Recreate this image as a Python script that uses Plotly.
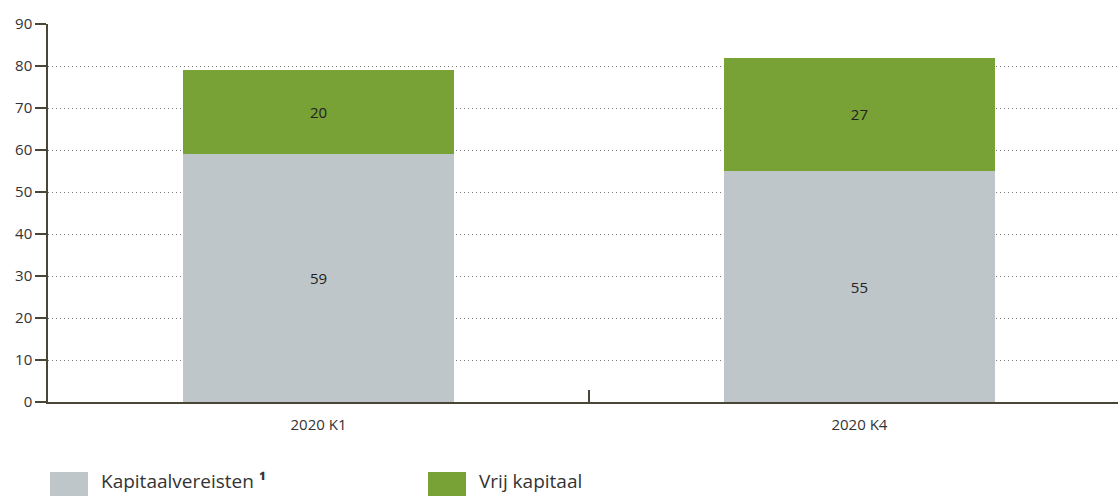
import plotly.graph_objects as go

categories = ["2020 K1", "2020 K4"]
kapitaalvereisten = [59, 55]
vrij_kapitaal = [20, 27]
series_names = ["Kapitaalvereisten", "Vrij kapitaal"]
y_ticks = [0, 10, 20, 30, 40, 50, 60, 70, 80, 90]

GREY = "#BEC6C9"
GREEN = "#78A136"
AXIS = "#4A4637"
FONT = "Open Sans, Noto Sans, sans-serif"

fig = go.Figure()
fig.add_trace(go.Bar(
    x=categories, y=kapitaalvereisten, name=series_names[0],
    marker=dict(color=GREY, line=dict(width=0)),
    text=[str(v) for v in kapitaalvereisten], textposition="inside",
    insidetextanchor="middle", textfont=dict(color="#222222", size=15, family=FONT),
    width=0.5, showlegend=False, hoverinfo="skip",
))
fig.add_trace(go.Bar(
    x=categories, y=vrij_kapitaal, name=series_names[1],
    marker=dict(color=GREEN, line=dict(width=0)),
    text=[str(v) for v in vrij_kapitaal], textposition="inside",
    insidetextanchor="middle", textfont=dict(color="#222222", size=15, family=FONT),
    width=0.5, showlegend=False, hoverinfo="skip",
))

fig.update_layout(
    barmode="stack",
    width=1118, height=496,
    margin=dict(l=48, r=0, t=24, b=94),
    paper_bgcolor="white", plot_bgcolor="white",
    font=dict(family=FONT, size=15, color="#333333"),
    uniformtext=dict(mode="show", minsize=8),
)
fig.update_xaxes(
    type="category", range=[-0.5, 1.478], showgrid=False, zeroline=False,
    showline=True, linecolor=AXIS, linewidth=1.5,
    ticks="inside", tickson="boundaries", ticklen=12, tickcolor=AXIS, tickwidth=1.5,
    ticklabelstandoff=8,
    tickfont=dict(size=15, color="#333333", family=FONT),
)
fig.update_yaxes(
    range=[0, 90], tickvals=y_ticks,
    showgrid=True, gridcolor="#777777", griddash="1px,3px", gridwidth=1,
    zeroline=False, showline=True, linecolor=AXIS, linewidth=1.5,
    ticks="outside", ticklen=11, tickcolor=AXIS, tickwidth=1.5,
    tickfont=dict(size=15, color="#333333", family=FONT),
)

# custom legend
legend_items = [(series_names[0] + " <b>¹</b>", GREY, 50), (series_names[1], GREEN, 428)]
plot_w, plot_h, x0, y0 = 1070, 378, 48, 402
for label, color, px in legend_items:
    fig.add_shape(type="rect", xref="paper", yref="paper",
                  x0=(px - x0) / plot_w, x1=(px + 38 - x0) / plot_w,
                  y0=(y0 - 472) / plot_h, y1=(y0 - 497) / plot_h,
                  fillcolor=color, line=dict(width=0), layer="above")
    fig.add_annotation(xref="paper", yref="paper",
                       x=(px + 49 - x0) / plot_w, y=(y0 - 481) / plot_h,
                       text=label, showarrow=False, xanchor="left", yanchor="middle",
                       font=dict(size=19, color="#333333", family=FONT))

fig.write_html("out.html")
